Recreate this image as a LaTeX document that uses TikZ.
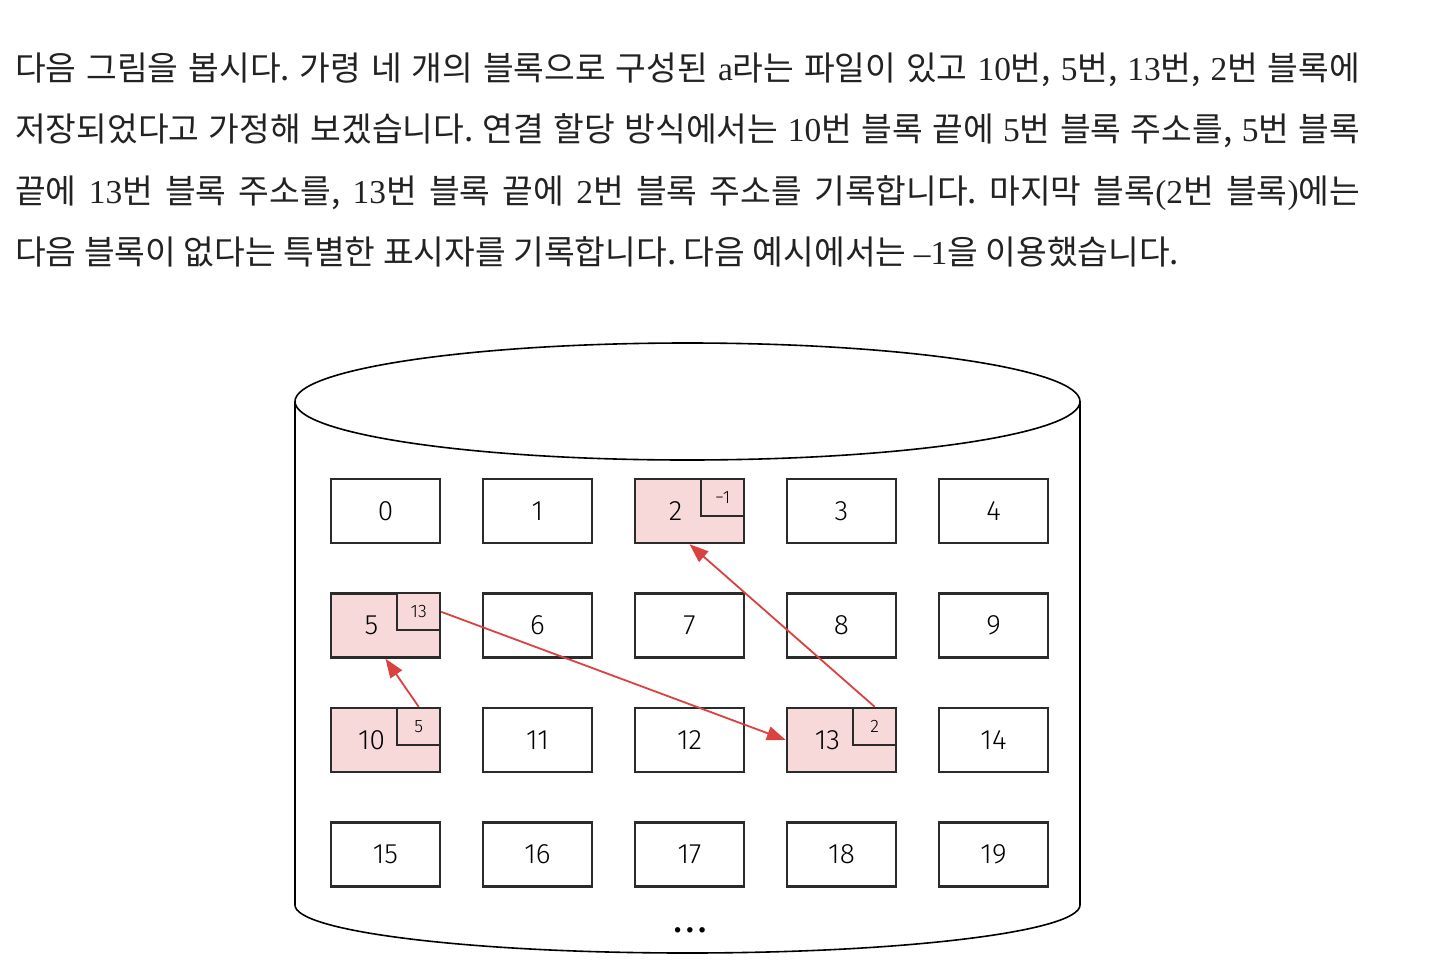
\documentclass[tikz,border=0pt]{standalone}
\usepackage{fontspec}
\setmainfont{Noto Sans CJK KR}
\newfontfamily\lat{Liberation Serif}
\newfontfamily\hand{Fira Sans Light}
\newfontfamily\handr{Fira Sans}
\usetikzlibrary{arrows.meta}
\definecolor{ink}{HTML}{2B2B2B}
\definecolor{txt}{HTML}{222222}
\definecolor{pinkfill}{HTML}{F8D9DA}
\definecolor{arrowred}{HTML}{D9423F}
\frenchspacing
\begin{document}
\begin{tikzpicture}[x=1pt,y=-1pt,
  para/.style={anchor=base west,inner sep=0pt,text=txt,font=\fontsize{33.4}{33.4}\selectfont},
  blk/.style={draw=ink,line width=2.4pt,minimum width=109pt,minimum height=64pt,inner sep=0pt,fill=white,font=\hand\fontsize{28}{28}\selectfont},
  used/.style={fill=pinkfill},
  ptr/.style={draw=ink,line width=2pt,minimum width=43pt,minimum height=37pt,inner sep=0pt,fill=pinkfill,font=\hand\fontsize{18}{18}\selectfont,anchor=north east},
  link/.style={draw=arrowred,line width=1.8pt,-{Triangle[length=19pt,width=14pt]}},
  cyl/.style={draw=black,line width=1.6pt}
]
\useasboundingbox (0,0) rectangle (1442,974);
\fill[white] (0,0) rectangle (1442,974);

% paragraph
\node[para] (l1) at (15,80) {\makebox[1345pt][s]{다음 그림을 봅시다. 가령 네 개의 블록으로 구성된 {\lat a}라는 파일이 있고 {\lat 10}번, {\lat 5}번, {\lat 13}번, {\lat 2}번 블록에}};
\node[para] (l2) at (15,141.5) {\makebox[1345pt][s]{저장되었다고 가정해 보겠습니다. 연결 할당 방식에서는 {\lat 10}번 블록 끝에 {\lat 5}번 블록 주소를, {\lat 5}번 블록}};
\node[para] (l3) at (15,203) {\makebox[1345pt][s]{끝에 {\lat 13}번 블록 주소를, {\lat 13}번 블록 끝에 {\lat 2}번 블록 주소를 기록합니다. 마지막 블록{\lat (2}번 블록{\lat )}에는}};
\node[para] (l4) at (15,264.5) {다음 블록이 없다는 특별한 표시자를 기록합니다. 다음 예시에서는 {\lat –1}을 이용했습니다.};

% cylinder
\draw[cyl] (295,401.5) -- (295,905) arc[start angle=180,end angle=360,x radius=392.5pt,y radius=48pt] -- (1080,401.5);
\draw[cyl,fill=white] (687.5,401.5) ellipse[x radius=392.5pt,y radius=58.5pt];
\node[font=\handr\bfseries\fontsize{30}{30}\selectfont,inner sep=0pt,anchor=base] (dots) at (690,932) {.\hspace{5pt}.\hspace{5pt}.};

% blocks
\foreach \i in {0,...,19}{
  \pgfmathtruncatemacro{\c}{mod(\i,5)}
  \pgfmathtruncatemacro{\r}{div(\i,5)}
  \coordinate (p\i) at ({385.5+152*\c},{511+114.5*\r});
}
\foreach \i in {0,1,3,4,6,7,8,9,11,12,14,15,16,17,18,19}{
  \node[blk] (b\i) at (p\i) {\i};
}
\foreach \i in {2,5,10,13}{
  \node[blk,used] (b\i) at (p\i) {};
  \node[font=\hand\fontsize{28}{28}\selectfont,inner sep=0pt] (n\i) at ([xshift=-14pt]b\i.center) {\i};
}
\node[ptr] (s2) at (b2.north east) {−1};
\node[ptr] (s5) at (b5.north east) {13};
\node[ptr] (s10) at (b10.north east) {5};
\node[ptr] (s13) at (b13.north east) {2};

% links
\draw[link] (s10.north) -- (b5.south);
\draw[link] (s5.east) -- (b13.west);
\draw[link] (s13.north) -- (b2.south);
\end{tikzpicture}
\end{document}
